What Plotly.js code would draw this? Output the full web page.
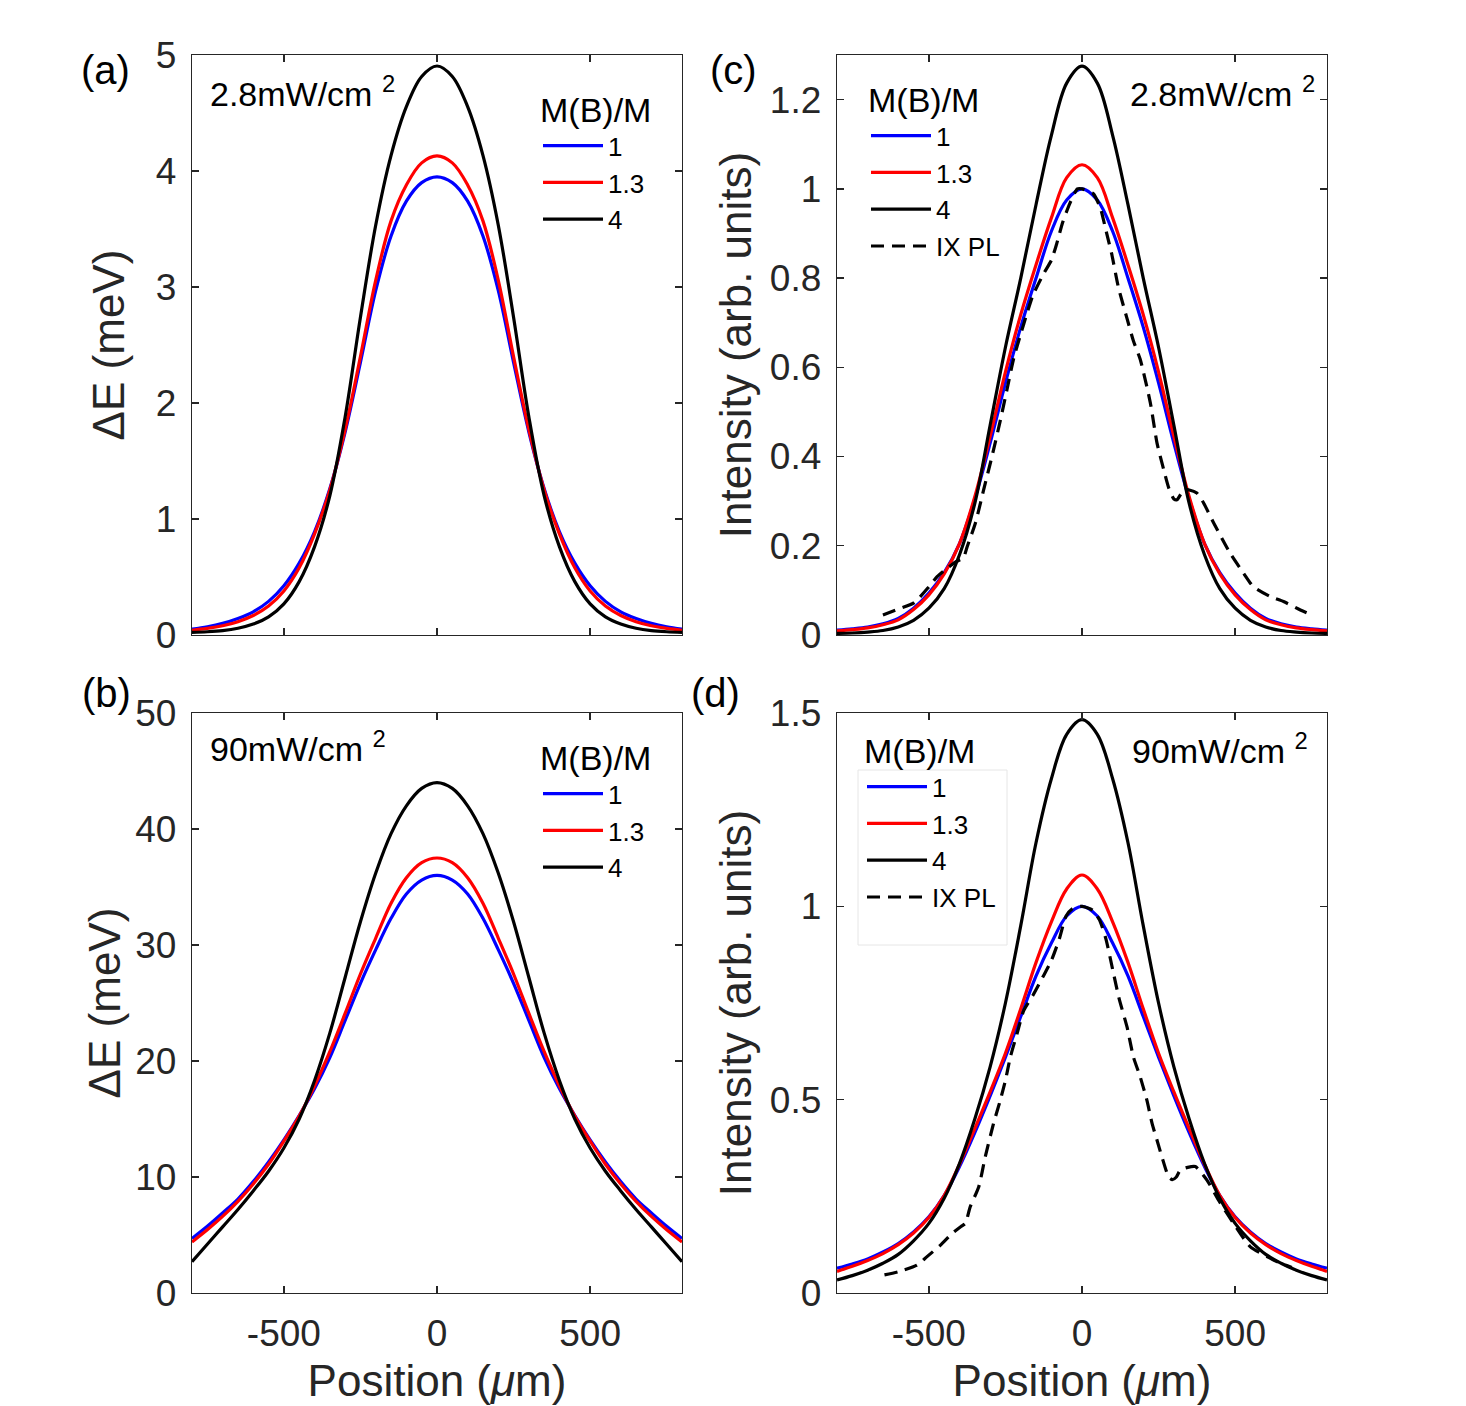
<!DOCTYPE html>
<html><head><meta charset="utf-8">
<script src="https://cdn.plot.ly/plotly-3.0.1.min.js"></script>
<style>html,body{margin:0;padding:0;background:#fff}#chart{width:1466px;height:1406px}</style>
</head><body><div id="chart"></div>
<script>
// ---------- data ----------
const positions = [-800,-750,-700,-650,-600,-550,-500,-450,-400,-350,-300,-250,-200,-150,-100,-50,0,50,100,150,200,250,300,350,400,450,500,550,600,650,700,750,800];
const massRatios = ['1', '1.3', '4'];
const plLabel = 'IX PL';

// (a) 2.8 mW/cm^2, Delta E (meV)
const aBlue  = [0.051,0.071,0.100,0.142,0.200,0.290,0.425,0.62,0.89,1.26,1.75,2.35,2.97,3.44,3.74,3.90,3.95,3.90,3.74,3.44,2.97,2.35,1.75,1.26,0.89,0.62,0.425,0.290,0.200,0.142,0.100,0.071,0.051];
const aRed   = [0.041,0.057,0.080,0.115,0.168,0.250,0.380,0.58,0.87,1.25,1.77,2.40,3.06,3.57,3.88,4.07,4.13,4.07,3.88,3.57,3.06,2.40,1.77,1.25,0.87,0.58,0.380,0.250,0.168,0.115,0.080,0.057,0.041];
const aBlack = [0.023,0.028,0.038,0.058,0.094,0.156,0.268,0.46,0.76,1.20,1.88,2.74,3.535,4.135,4.555,4.815,4.905,4.815,4.555,4.135,3.535,2.74,1.88,1.20,0.76,0.46,0.268,0.156,0.094,0.058,0.038,0.028,0.023];

// (b) 90 mW/cm^2, Delta E (meV)
const bBlue  = [4.7,5.75,6.9,8.1,9.6,11.3,13.2,15.3,17.6,20.3,23.5,26.7,29.6,32.3,34.4,35.6,36.0,35.6,34.4,32.3,29.6,26.7,23.5,20.3,17.6,15.3,13.2,11.3,9.6,8.1,6.9,5.75,4.7];
const bRed   = [4.4,5.45,6.6,7.9,9.4,11.1,13.1,15.25,17.85,20.8,24.1,27.5,30.6,33.6,35.8,37.1,37.5,37.1,35.8,33.6,30.6,27.5,24.1,20.8,17.85,15.25,13.1,11.1,9.4,7.9,6.6,5.45,4.4];
const bBlack = [2.7,4.2,5.7,7.2,8.8,10.5,12.5,15.0,18.3,22.4,27.2,32.0,36.2,39.6,42.0,43.5,44.0,43.5,42.0,39.6,36.2,32.0,27.2,22.4,18.3,15.0,12.5,10.5,8.8,7.2,5.7,4.2,2.7];

// (c) 2.8 mW/cm^2, intensity
const cBlue  = [0.011,0.014,0.018,0.025,0.037,0.06,0.094,0.14,0.205,0.305,0.43,0.565,0.69,0.80,0.905,0.975,1.0,0.975,0.905,0.80,0.69,0.565,0.43,0.305,0.205,0.14,0.094,0.06,0.037,0.025,0.018,0.014,0.011];
const cRed   = [0.009,0.012,0.016,0.023,0.034,0.057,0.09,0.137,0.205,0.31,0.445,0.59,0.718,0.83,0.935,1.025,1.054,1.025,0.935,0.83,0.718,0.59,0.445,0.31,0.205,0.137,0.09,0.057,0.034,0.023,0.016,0.012,0.009];
const cBlack = [0.0035,0.0045,0.0065,0.010,0.018,0.033,0.06,0.104,0.18,0.295,0.47,0.645,0.80,0.965,1.12,1.237,1.275,1.237,1.12,0.965,0.80,0.645,0.47,0.295,0.18,0.104,0.06,0.033,0.018,0.010,0.0065,0.0045,0.0035];
const cPLx = [-650,-600,-549,-500,-473,-449,-410,-388,-375,-348,-321,-294,-267,-245,-223,-200,-180,-161,-126,-100,-83,-63,-40,-15,0,20,37,59,81,97,119,146,168,190,223,245,267,283,300,310,322,332,350,375,397,430,484,528,560,615,658,713,751];
const cPLy = [0.045,0.058,0.072,0.108,0.131,0.145,0.165,0.172,0.198,0.251,0.326,0.40,0.48,0.55,0.62,0.675,0.72,0.76,0.809,0.84,0.876,0.925,0.967,1.0,1.0,0.995,0.989,0.959,0.899,0.854,0.779,0.712,0.659,0.618,0.521,0.43,0.37,0.33,0.305,0.303,0.315,0.326,0.325,0.318,0.296,0.251,0.183,0.138,0.108,0.086,0.075,0.056,0.045];

// (d) 90 mW/cm^2, intensity
const dBlue  = [0.064,0.075,0.088,0.106,0.128,0.158,0.197,0.252,0.327,0.415,0.51,0.61,0.715,0.82,0.905,0.975,1.0,0.975,0.905,0.82,0.715,0.61,0.51,0.415,0.327,0.252,0.197,0.158,0.128,0.106,0.088,0.075,0.064];
const dRed   = [0.056,0.069,0.084,0.102,0.125,0.155,0.195,0.252,0.333,0.425,0.52,0.62,0.735,0.855,0.96,1.045,1.081,1.045,0.96,0.855,0.735,0.62,0.52,0.425,0.333,0.252,0.195,0.155,0.125,0.102,0.084,0.069,0.056];
const dBlack = [0.034,0.045,0.059,0.077,0.10,0.135,0.18,0.245,0.335,0.45,0.585,0.75,0.95,1.165,1.33,1.445,1.483,1.445,1.33,1.165,0.95,0.75,0.585,0.45,0.335,0.245,0.18,0.135,0.10,0.077,0.059,0.045,0.034];
const dPLx = [-645,-600,-539,-506,-462,-424,-395,-381,-365,-337,-316,-289,-267,-250,-234,-212,-190,-160,-128,-100,-74,-52,-30,0,35,57,78,100,121,147,168,190,212,229,245,261,283,295,308,321,345,370,408,446,495,549,604,648,685];
const dPLy = [0.047,0.055,0.072,0.094,0.124,0.154,0.172,0.18,0.223,0.275,0.352,0.438,0.498,0.55,0.61,0.671,0.731,0.77,0.817,0.86,0.916,0.975,0.995,1.0,0.99,0.965,0.916,0.837,0.762,0.688,0.61,0.559,0.498,0.438,0.395,0.352,0.30,0.293,0.30,0.318,0.325,0.327,0.292,0.24,0.18,0.12,0.094,0.077,0.066];

// tick labels
const xTickVals = [-500, 0, 500];
const xTickText = ['-500', '0', '500'];
const aTickVals = [0, 1, 2, 3, 4, 5];
const aTickText = ['0', '1', '2', '3', '4', '5'];
const bTickVals = [0, 10, 20, 30, 40, 50];
const bTickText = ['0', '10', '20', '30', '40', '50'];
const cTickVals = [0, 0.2, 0.4, 0.6, 0.8, 1, 1.2];
const cTickText = ['0', '0.2', '0.4', '0.6', '0.8', '1', '1.2'];
const dTickVals = [0, 0.5, 1, 1.5];
const dTickText = ['0', '0.5', '1', '1.5'];

// ---------- figure ----------
const W = 1466, H = 1406;
const FONT = 'Liberation Sans, Arial, Helvetica, sans-serif';
const AX = '#262626';
const colors = ['#0000ff', '#ff0000', '#000000'];
const px = v => v / W;
const py = v => 1 - v / H;

function curve(x, y, i, xa, ya, lg) {
  return {x: x, y: y, type: 'scatter', mode: 'lines', name: massRatios[i],
          xaxis: xa, yaxis: ya, legend: lg,
          line: {color: colors[i], width: 3.2, shape: 'spline', smoothing: 1.0},
          hoverinfo: 'skip'};
}
function plCurve(x, y, xa, ya, lg) {
  return {x: x, y: y, type: 'scatter', mode: 'lines', name: plLabel,
          xaxis: xa, yaxis: ya, legend: lg,
          line: {color: '#000000', width: 3.2, dash: '13px,8px', shape: 'spline', smoothing: 0.6},
          hoverinfo: 'skip'};
}

const traces = [
  curve(positions, aBlue, 0, 'x', 'y', 'legend'),
  curve(positions, aRed, 1, 'x', 'y', 'legend'),
  curve(positions, aBlack, 2, 'x', 'y', 'legend'),
  curve(positions, cBlue, 0, 'x2', 'y2', 'legend2'),
  curve(positions, cRed, 1, 'x2', 'y2', 'legend2'),
  curve(positions, cBlack, 2, 'x2', 'y2', 'legend2'),
  plCurve(cPLx, cPLy, 'x2', 'y2', 'legend2'),
  curve(positions, bBlue, 0, 'x3', 'y3', 'legend3'),
  curve(positions, bRed, 1, 'x3', 'y3', 'legend3'),
  curve(positions, bBlack, 2, 'x3', 'y3', 'legend3'),
  curve(positions, dBlue, 0, 'x4', 'y4', 'legend4'),
  curve(positions, dRed, 1, 'x4', 'y4', 'legend4'),
  curve(positions, dBlack, 2, 'x4', 'y4', 'legend4'),
  plCurve(dPLx, dPLy, 'x4', 'y4', 'legend4')
];

const leftDom = [px(192), px(682)];
const rightDom = [px(837), px(1327)];
const topDom = [py(635), py(55)];
const botDom = [py(1293), py(713)];

function xAxis(dom, anchor, labels) {
  const a = {domain: dom, anchor: anchor, range: [-800, 800], tickmode: 'array',
    tickvals: xTickVals, ticktext: xTickText, showticklabels: labels,
    ticks: 'inside', ticklen: 7, tickwidth: 1.3, tickcolor: AX,
    showline: true, mirror: 'ticks', linecolor: AX, linewidth: 1.3,
    showgrid: false, zeroline: false, ticklabelstandoff: 7,
    tickfont: {family: FONT, size: 37, color: AX}};
  if (labels) a.title = {text: 'Position (<i>μ</i>m)', font: {family: FONT, size: 44, color: AX}, standoff: 12};
  return a;
}
function yAxis(dom, anchor, range, vals, text, title, standoff) {
  return {domain: dom, anchor: anchor, range: range, tickmode: 'array',
    tickvals: vals, ticktext: text,
    ticks: 'inside', ticklen: 7, tickwidth: 1.3, tickcolor: AX,
    showline: true, mirror: 'ticks', linecolor: AX, linewidth: 1.3,
    showgrid: false, zeroline: false, ticklabelstandoff: 7,
    tickfont: {family: FONT, size: 37, color: AX},
    title: {text: title, font: {family: FONT, size: 44, color: AX}, standoff: standoff}};
}

function legendBox(x, y) {
  return {x: x, y: y, xanchor: 'left', yanchor: 'top', bgcolor: 'rgba(0,0,0,0)',
    borderwidth: 0, itemwidth: 60, tracegroupgap: 0,
    font: {family: FONT, size: 26, color: '#000'},
    title: {text: 'M(B)/M', side: 'top', font: {family: FONT, size: 34, color: '#000'}}};
}

function note(text, x, y) {
  return {text: text, x: x, y: y, xref: 'paper', yref: 'paper', xanchor: 'left', yanchor: 'middle',
    showarrow: false, font: {family: FONT, size: 34, color: '#000'}};
}
function panelLabel(text, x, y) {
  return {text: text, x: x, y: y, xref: 'paper', yref: 'paper', xanchor: 'center', yanchor: 'middle',
    showarrow: false, font: {family: FONT, size: 40, color: '#000'}};
}

const layout = {
  width: W, height: H, margin: {l: 0, r: 0, t: 0, b: 0},
  paper_bgcolor: '#fff', plot_bgcolor: '#fff', showlegend: true,
  font: {family: FONT, color: AX},
  xaxis: xAxis(leftDom, 'y', false),
  yaxis: yAxis(topDom, 'x', [0, 5], aTickVals, aTickText, 'ΔE (meV)', 17),
  xaxis2: xAxis(rightDom, 'y2', false),
  yaxis2: yAxis(topDom, 'x2', [0, 1.3], cTickVals, cTickText, 'Intensity (arb. units)', 4),
  xaxis3: xAxis(leftDom, 'y3', true),
  yaxis3: yAxis(botDom, 'x3', [0, 50], bTickVals, bTickText, 'ΔE (meV)', 0),
  xaxis4: xAxis(rightDom, 'y4', true),
  yaxis4: yAxis(botDom, 'x4', [0, 1.5], dTickVals, dTickText, 'Intensity (arb. units)', 4),
  legend: legendBox(px(538), py(78)),
  legend2: legendBox(px(866), py(68)),
  legend3: legendBox(px(538), py(726)),
  legend4: legendBox(px(862), py(719)),
  shapes: [{type: 'rect', xref: 'paper', yref: 'paper', x0: px(858), x1: px(1007), y0: py(945), y1: py(770),
            line: {color: '#e6e6e6', width: 1}, fillcolor: 'rgba(0,0,0,0)', layer: 'below'}],
  annotations: [
    panelLabel('(a)', px(105), py(70)),
    panelLabel('(c)', px(733), py(70)),
    panelLabel('(b)', px(106), py(693)),
    panelLabel('(d)', px(715), py(693)),
    note('2.8mW/cm <sup>2</sup>', px(208), py(92)),
    note('2.8mW/cm <sup>2</sup>', px(1128), py(92)),
    note('90mW/cm <sup>2</sup>', px(208), py(746)),
    note('90mW/cm <sup>2</sup>', px(1130), py(748))
  ]
};

Plotly.newPlot('chart', traces, layout, {displayModeBar: false, staticPlot: true});
</script>
</body></html>
